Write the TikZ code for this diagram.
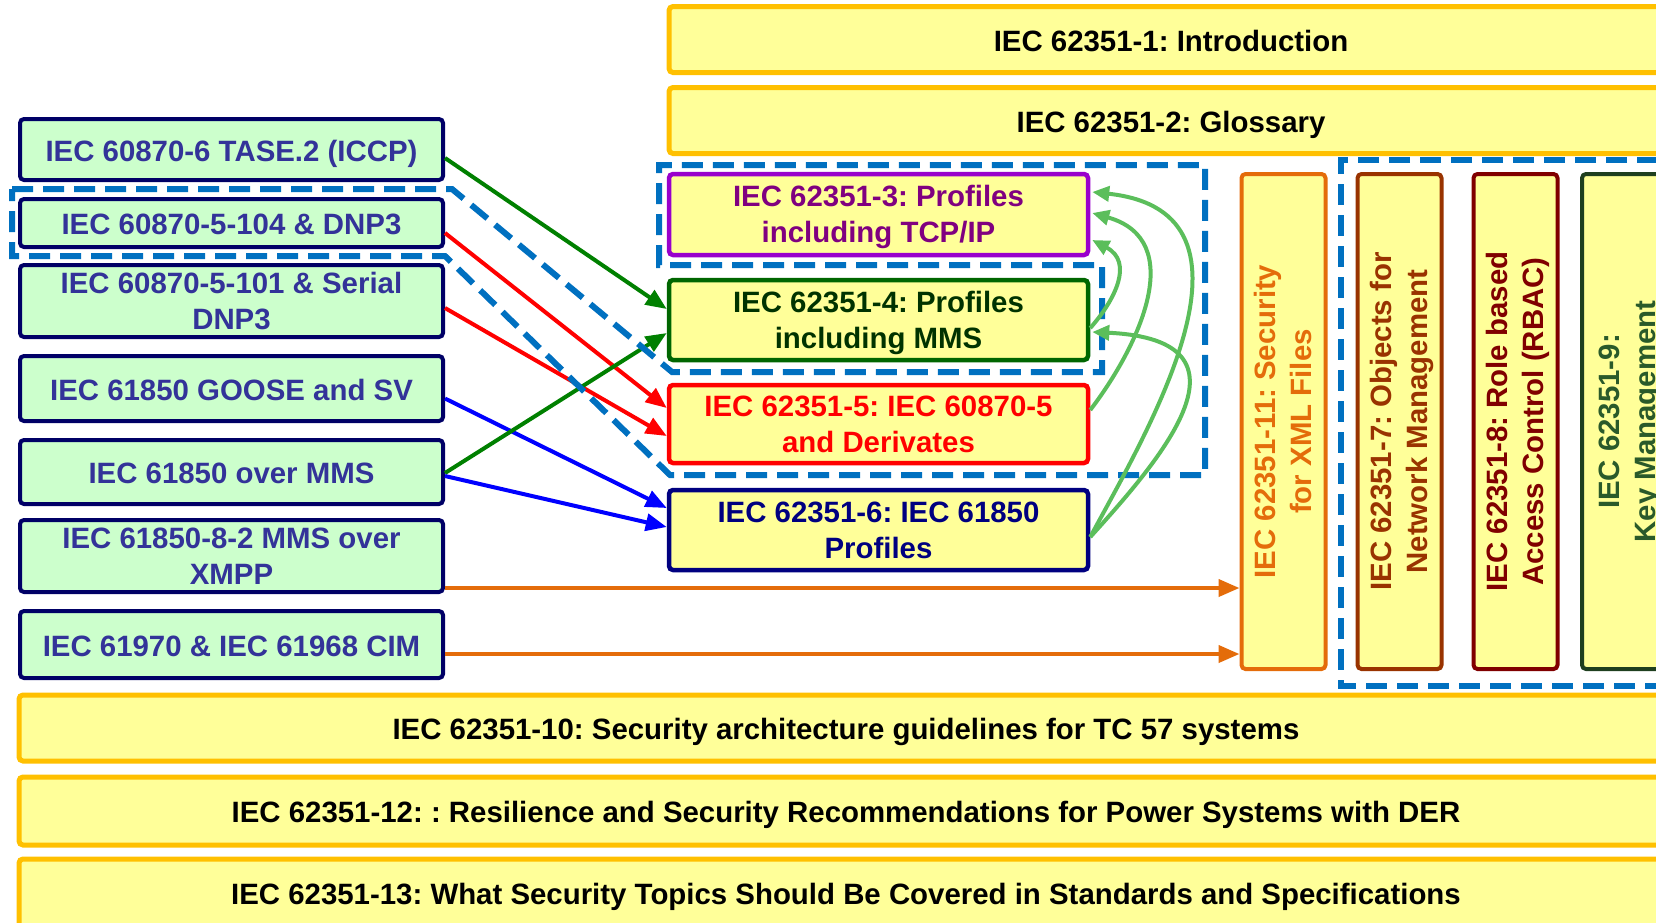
\documentclass[tikz,border=0pt]{standalone}
\usepackage{fontspec}
\setmainfont{Liberation Sans}
\usetikzlibrary{arrows.meta,calc}
\definecolor{lgreen}{HTML}{CCFFCC}
\definecolor{lnavy}{HTML}{000066}
\definecolor{ltext}{HTML}{333399}
\definecolor{yfill}{HTML}{FFFF99}
\definecolor{gold}{HTML}{FFC000}
\definecolor{pborder}{HTML}{9900CC}
\definecolor{ptext}{HTML}{800080}
\definecolor{g4border}{HTML}{006600}
\definecolor{g4text}{HTML}{003300}
\definecolor{nborder}{HTML}{000080}
\definecolor{oborder}{HTML}{E46C0A}
\definecolor{brborder}{HTML}{993300}
\definecolor{drborder}{HTML}{800000}
\definecolor{g9border}{HTML}{1F3F1F}
\definecolor{g9text}{HTML}{2A5A2A}
\definecolor{dblue}{HTML}{0070C0}
\definecolor{agreen}{HTML}{008000}
\definecolor{ablue}{HTML}{0000FF}
\definecolor{lgarrow}{HTML}{5BBE5B}
\frenchspacing
\begin{document}
\begin{tikzpicture}[x=1pt,y=-1pt,
  every node/.style={font=\fontsize{29.4}{35.5}\selectfont\bfseries},
  box/.style={rectangle, rounded corners=4pt, line width=4pt, inner sep=0pt, align=center,
    text height=30.5pt, text depth=7pt},
  twoline/.style={font=\fontsize{29.4}{35.8}\selectfont\bfseries,
    text height=63pt, text depth=7pt},
  lbox/.style={box, draw=lnavy, fill=lgreen, text=ltext, minimum width=423pt},
  mbox/.style={box, twoline, fill=yfill, minimum width=419pt, line width=4.5pt},
  vbox/.style={box, twoline, fill=yfill, rotate=90, minimum width=495pt, minimum height=84pt},
  wbox/.style={box, draw=gold, fill=yfill, text=black, line width=5pt},
  conn/.style={line width=4pt, -{Triangle[length=21pt,width=17pt]}},
  gconn/.style={line width=4pt, draw=lgarrow, -{Triangle[length=17pt,width=15pt]}, lgarrow},
  dashb/.style={draw=dblue, line width=6pt, dash pattern=on 21pt off 10pt}
]
\useasboundingbox (0,0) rectangle (1656,922);
\clip (0,0) rectangle (1656,922);

% wide boxes
\node[wbox, minimum width=1004pt, minimum height=66pt] (t1) at (1171,39.5) {IEC 62351-1: Introduction};
\node[wbox, minimum width=1004pt, minimum height=66pt] (t2) at (1171,120.5) {IEC 62351-2: Glossary};
\node[wbox, minimum width=1654pt, minimum height=66pt] (b10) at (846,728) {IEC 62351-10: Security architecture guidelines for TC 57 systems};
\node[wbox, minimum width=1654pt, minimum height=68pt] (b12) at (846,811) {IEC 62351-12: : Resilience and Security Recommendations for Power Systems with DER};
\node[wbox, minimum width=1654pt, minimum height=68pt] (b13) at (846,893) {IEC 62351-13: What Security Topics Should Be Covered in Standards and Specifications};

% left boxes
\node[lbox, minimum height=61pt] (l1) at (231.5,149.5) {IEC 60870-6 TASE.2 (ICCP)};
\node[lbox, minimum height=48pt] (l2) at (231.5,223) {IEC 60870-5-104 \& DNP3};
\node[lbox, twoline, minimum height=72pt] (l3) at (231.5,301) {IEC 60870-5-101 \& Serial\\DNP3};
\node[lbox, minimum height=65pt] (l4) at (231.5,388.5) {IEC 61850 GOOSE and SV};
\node[lbox, minimum height=64pt] (l5) at (231.5,472) {IEC 61850 over MMS};
\node[lbox, twoline, minimum height=72pt] (l6) at (231.5,556) {IEC 61850-8-2 MMS over\\XMPP};
\node[lbox, minimum height=67pt] (l7) at (231.5,644.5) {IEC 61970 \& IEC 61968 CIM};

% middle boxes
\node[mbox, draw=pborder, text=ptext, minimum height=81pt] (m3) at (878.5,214.5) {IEC 62351-3: Profiles\\including TCP/IP};
\node[mbox, draw=g4border, text=g4text, minimum height=80pt] (m4) at (878.5,320) {IEC 62351-4: Profiles\\including MMS};
\node[mbox, draw=red, text=red, minimum height=78pt] (m5) at (878.5,424) {IEC 62351-5: IEC 60870-5\\and Derivates};
\node[mbox, draw=nborder, text=nborder, minimum height=80pt] (m6) at (878.5,530) {IEC 62351-6: IEC 61850\\Profiles};

% vertical boxes
\node[vbox, draw=oborder, text=oborder] (v11) at (1283.5,421.5) {IEC 62351-11: Security\\for XML Files};
\node[vbox, draw=brborder, text=brborder] (v7) at (1399.5,421.5) {IEC 62351-7: Objects for\\Network Management};
\node[vbox, draw=drborder, text=drborder] (v8) at (1515.5,421.5) {IEC 62351-8: Role based\\Access Control (RBAC)};
\node[vbox, draw=g9border, text=g9text, minimum height=90pt] (v9) at (1627,421.5) {IEC 62351-9:\\Key Management};

% straight connectors
\draw[conn, agreen] ($(l1.east)+(0,8.5)$) -- ($(m4.west)+(0,-11)$);
\draw[conn, red] ($(l2.east)+(0,10)$) -- ($(m5.west)+(0,-16)$);
\draw[conn, red] ($(l3.east)+(0,7)$) -- ($(m5.west)+(0,12)$);
\draw[conn, ablue] ($(l4.east)+(0,10)$) -- ($(m6.west)+(0,-22)$);
\draw[conn, agreen] ($(l5.east)+(0,1)$) -- ($(m4.west)+(0,13)$);
\draw[conn, ablue] ($(l5.east)+(0,4)$) -- ($(m6.west)+(0,-3)$);
\draw[conn, oborder] ($(l6.east)+(0,32)$) coordinate (o1) -- (o1 -| v11.north);
\draw[conn, oborder] ($(l7.east)+(0,9.5)$) coordinate (o2) -- (o2 -| v11.north);

% dashed groups
\draw[dashb] (12,189) -- (452,189) -- (672,372) -- (1102,372) -- (1102,265) -- (659,265) -- (659,165) -- (1205,165) -- (1205,475) -- (670,475) -- (445,256) -- (12,256) -- cycle;
\draw[dashb] (1720,160) -- (1341,160) -- (1341,686) -- (1720,686);

% curved connectors
\draw[gconn] ($(m4.east)+(0,8)$) .. controls (1115,300) and (1134,262) .. ($(m3.east)+(2,25.5)$);
\draw[gconn] ($(m5.east)+(0,-14)$) .. controls (1140,345) and (1188,240) .. ($(m3.east)+(2,-1.5)$);
\draw[gconn] ($(m6.east)+(0,7)$) .. controls (1145,435) and (1280,212) .. ($(m3.east)+(2,-22.5)$);
\draw[gconn] ($(m6.east)+(0,7)$) .. controls (1160,460) and (1265,340) .. ($(m4.east)+(2,12)$);
\end{tikzpicture}
\end{document}
